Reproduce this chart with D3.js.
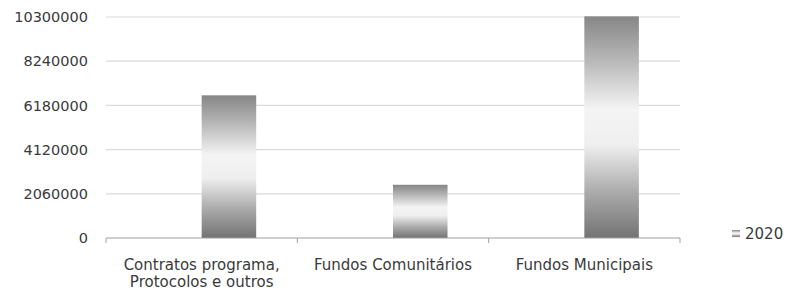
<!DOCTYPE html>
<html>
<head>
<meta charset="utf-8">
<script src="https://cdn.jsdelivr.net/npm/d3@7"></script>
<style>
  body { margin: 0; background: #fff; }
  svg text { font-family: "DejaVu Sans", Verdana, sans-serif; fill: #3a3a3a; }
</style>
</head>
<body>
<div id="chart"></div>
<script>
// chart data
var categories = ["Contratos programa,\nProtocolos e outros", "Fundos Comunitários", "Fundos Municipais"];
var values2020 = [6650000, 2480000, 10330000];
var yTicks = [0, 2060000, 4120000, 6180000, 8240000, 10300000];
var seriesName = "2020";

var width = 786, height = 290;
var margin = {top: 17, right: 106, bottom: 52, left: 106};
var innerW = width - margin.left - margin.right;
var innerH = height - margin.top - margin.bottom;

var svg = d3.select("#chart").append("svg")
  .attr("width", width)
  .attr("height", height);

var g = svg.append("g")
  .attr("transform", "translate(" + margin.left + "," + margin.top + ")");

var x = d3.scaleBand().domain(categories).range([0, innerW]).padding(0);
var y = d3.scaleLinear().domain([0, 10300000]).range([innerH, 0]);

// gradient like the scanned bars
var defs = svg.append("defs");
var grad = defs.append("linearGradient")
  .attr("id", "barGrad")
  .attr("x1", 0).attr("y1", 0).attr("x2", 0).attr("y2", 1);
[["0%", "#868686"], ["20%", "#b8b8b8"], ["42%", "#f4f4f4"], ["58%", "#efefef"],
 ["80%", "#a9a9a9"], ["100%", "#737373"]].forEach(function (s) {
  grad.append("stop").attr("offset", s[0]).attr("stop-color", s[1]);
});

// gridlines
g.append("g")
  .selectAll("line")
  .data(yTicks.filter(function (d) { return d > 0; }))
  .enter().append("line")
    .attr("x1", 0).attr("x2", innerW)
    .attr("y1", function (d) { return y(d); })
    .attr("y2", function (d) { return y(d); })
    .attr("stroke", "#dadada")
    .attr("stroke-width", 1.2);

// y axis labels
var yAxis = d3.axisLeft(y).tickValues(yTicks).tickSize(0).tickPadding(18)
  .tickFormat(function (d) { return String(d); });
g.append("g").call(yAxis)
  .call(function (a) { a.select(".domain").remove(); })
  .selectAll("text")
    .style("font-size", "14.5px")
    .attr("fill", "#3a3a3a");

// bars
var barW = x.bandwidth() * 0.285;
g.selectAll("rect.bar")
  .data(values2020)
  .enter().append("rect")
    .attr("class", "bar")
    .attr("x", function (d, i) { return x(categories[i]) + x.bandwidth() / 2; })
    .attr("y", function (d) { return y(d); })
    .attr("width", barW)
    .attr("height", function (d) { return innerH - y(d); })
    .attr("fill", "url(#barGrad)");

// x axis line and ticks at band edges
var xa = g.append("g").attr("transform", "translate(0," + innerH + ")");
xa.append("line").attr("x1", 0).attr("x2", innerW)
  .attr("stroke", "#a0a0a0").attr("stroke-width", 1.2);
var edges = categories.map(function (c) { return x(c); }).concat([innerW]);
xa.selectAll("line.tk")
  .data(edges)
  .enter().append("line")
    .attr("class", "tk")
    .attr("x1", function (d) { return d; }).attr("x2", function (d) { return d; })
    .attr("y1", 0).attr("y2", 5)
    .attr("stroke", "#a0a0a0");

// x labels
xa.selectAll("text.cat")
  .data(categories)
  .enter().append("text")
    .attr("class", "cat")
    .attr("text-anchor", "middle")
    .style("font-size", "15px")
    .attr("transform", function (d) { return "translate(" + (x(d) + x.bandwidth() / 2) + ",0)"; })
    .each(function (d) {
      var t = d3.select(this);
      d.split("\n").forEach(function (line, i) {
        t.append("tspan").attr("x", 0).attr("y", 32 + i * 17).text(line);
      });
    });

// legend
var lg = svg.append("g").attr("transform", "translate(732,230)");
lg.append("rect").attr("x", 0).attr("y", 0).attr("width", 8).attr("height", 7)
  .attr("fill", "url(#barGrad)");
lg.append("text").attr("x", 13).attr("y", 3.5).attr("dy", "0.35em")
  .style("font-size", "15px").text(seriesName);
</script>
</body>
</html>
